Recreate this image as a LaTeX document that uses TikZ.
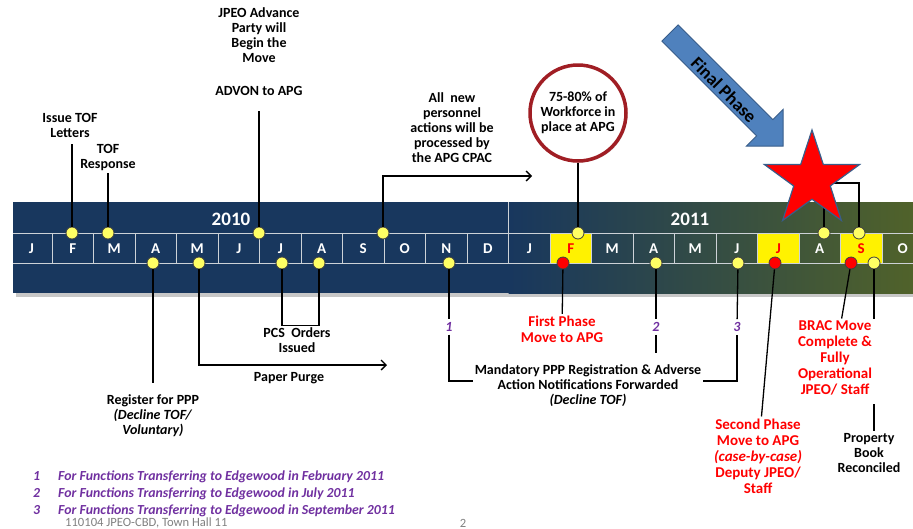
\documentclass[tikz,border=0pt]{standalone}
\usepackage{fontspec}
\setmainfont{Carlito}
\usetikzlibrary{shapes.geometric,arrows.meta,shadows}

\definecolor{bandblue}{RGB}{24,55,94}
\definecolor{bandolive}{RGB}{80,98,42}
\definecolor{dotyellow}{RGB}{255,255,100}
\definecolor{ppurple}{RGB}{112,48,160}
\definecolor{circred}{RGB}{160,30,36}
\definecolor{arrblue}{RGB}{79,129,189}
\definecolor{arredge}{RGB}{56,93,138}
\definecolor{gridgray}{RGB}{205,210,215}

\begin{document}
\begin{tikzpicture}[x=1pt,y=-1pt,>={Straight Barb[length=5pt,width=10pt]},
    lbl/.style={align=center,font=\fontsize{14}{15}\selectfont\bfseries,inner sep=2pt},
    redlbl/.style={lbl,text=red,font=\fontsize{15}{16}\selectfont\bfseries},
    conn/.style={line width=1.3pt},
    dot/.style={circle,draw=black!75,fill=dotyellow,line width=0.8pt,inner sep=0pt,minimum size=12pt},
    reddot/.style={dot,fill=red},
    mon/.style={font=\fontsize{15}{15}\selectfont\bfseries},
    year/.style={text=white,font=\fontsize{19}{19}\selectfont\bfseries},
    num/.style={text=ppurple,font=\fontsize{14}{15}\selectfont\bfseries\itshape,inner sep=3pt},
    fn/.style={text=ppurple,font=\fontsize{13.8}{15}\selectfont\bfseries\itshape,inner sep=0pt},
    foot/.style={text=black!50,font=\fontsize{12.6}{13}\selectfont,inner sep=0pt},
    gridline/.style={draw=gridgray,line width=0.8pt}]
    \useasboundingbox (0,0) rectangle (913,528);

    % timeline band
    \fill[black!22] (16,206) rectangle (913,297);
    \fill[bandblue] (13,202) rectangle (508.5,293);
    \shade[left color=bandblue,right color=bandolive] (508.5,202) rectangle (913,293);
    \foreach \i in {13,18,20}
        \fill[yellow] (10.5+41.5*\i,233) rectangle (52+41.5*\i,263);
    \draw[gridline] (13,233) -- (913,233) (13,263) -- (913,263);
    \draw[gridline] (508.5,202) -- (508.5,263);
    \foreach \k in {1,...,11,13,14,...,21}
        \draw[gridline] (10.5+41.5*\k,233) -- (10.5+41.5*\k,263);
    \foreach \m/\c [count=\i from 0] in {J/white,F/white,M/white,A/white,M/white,J/white,
            J/white,A/white,S/white,O/white,N/white,D/white,J/white,F/red,M/white,A/white,
            M/white,J/white,J/red,A/white,S/red,O/white}
        \node[mon,text=\c] (m\i) at (31.25+41.5*\i,249) {\m};
    \node[year] (y10) at (231,219) {2010};
    \node[year] (y11) at (690,219) {2011};

    % milestone dots
    \foreach \n/\x in {dF/72,dM/108,dJJ/259,dSO/383,dF11/578,dA11/824,dS11/859}
        \node[dot] (\n) at (\x,233) {};
    \foreach \n/\x in {dA/153,dMay/199,dJul/282,dAug/319,dN/449,dA11b/656,dJun/738,dSO11/874}
        \node[dot] (\n) at (\x,263) {};
    \foreach \n/\x in {rF/563,rJ/775,rS/851}
        \node[reddot] (\n) at (\x,263) {};

    % labels above
    \node[lbl] (issue) at (70,125) {Issue TOF\\Letters};
    \node[lbl] (tofr) at (108,158) {TOF\\Response};
    \node[lbl] (jpeo) at (259,35.5) {JPEO Advance\\Party will\\Begin the\\Move};
    \node[lbl] (advon) at (259,91) {ADVON to APG};
    \node[lbl] (allnew) at (452,128) {All~ new\\personnel\\actions will be\\processed by\\the APG CPAC};
    \node[lbl,circle,draw=circred,line width=3.5pt,fill=white,minimum size=96pt,
          drop shadow={shadow xshift=1.5pt,shadow yshift=-1.5pt,fill=black!30}]
          (circ) at (578,113) {75-80\% of\\Workforce in\\place at APG};
    \coordinate (arrA) at (532,176);
    \coordinate (brk) at (840,183);

    \draw[conn,shorten >=5pt] (dF) -- (dF |- issue.south);
    \draw[conn] (dM) -- (dM |- tofr.south);
    \draw[conn,shorten >=13pt] (dJJ) -- (dJJ |- advon.south);
    \draw[conn,->] (dSO) |- (arrA);
    \draw[conn] (dF11) -- (circ);
    \draw[conn] (dA11) |- (brk) -| (dS11);

    \node[star,star points=5,star point ratio=2.6,minimum size=100pt,inner sep=0pt,
          fill=red,draw=arredge,line width=1.2pt] (star) at (812,180) {};
    \begin{scope}[shift={(670,33)},rotate=-45]
        \filldraw[fill=arrblue,draw=arredge,line width=0.8pt]
            (0,-11.5) -- (134,-11.5) -- (134,-26) -- (160,0) -- (134,26) -- (134,11.5) -- (0,11.5) -- cycle;
    \end{scope}
    \node[lbl,rotate=-45,font=\fontsize{18}{18}\selectfont\bfseries] (fphase) at (724,90) {Final Phase};

    % labels below
    \node[lbl] (register) at (153,416) {Register for PPP\\\textit{(Decline TOF/}\\\textit{Voluntary)}};
    \node[lbl] (purge) at (289,378) {Paper Purge};
    \node[lbl] (pcs) at (297,340) {PCS~ Orders\\Issued};
    \node[num] (n1) at (449,327) {1};
    \node[num] (n2) at (656,327) {2};
    \node[num] (n3) at (737,327) {3};
    \node[lbl] (mand) at (588,386) {Mandatory PPP Registration \& Adverse\\Action Notifications Forwarded\\\textit{(Decline TOF)}};
    \node[redlbl] (first) at (562,329.5) {First Phase\\Move to APG};
    \node[redlbl] (second) at (758,456) {Second Phase\\Move to APG\\\textit{(case-by-case)}\\Deputy JPEO/\\Staff};
    \node[redlbl] (brac) at (835,358) {BRAC Move\\Complete \&\\Fully\\Operational\\JPEO/ Staff};
    \node[lbl] (prop) at (869,453) {Property\\Book\\Reconciled};
    \coordinate (purgeEnd) at (387,365);
    \coordinate (mbase) at (600,381);

    \draw[conn,shorten >=10pt] (dA) -- (dA |- register.north);
    \draw[conn,->] (dMay) |- (purgeEnd);
    \draw[conn] (dJul) |- (pcs.north) -| (dAug);
    \draw[conn] (dN) -- (n1);
    \draw[conn] (n1) |- (mand.west |- mbase);
    \draw[conn] (mand.east |- mbase) -| (n3);
    \draw[conn] (n3) -- (dJun);
    \draw[conn] (dA11b) -- (n2);
    \draw[conn,shorten >=10pt] (n2) -- (n2 |- mand.north);
    \draw[conn] (rF) -- (first);
    \draw[conn] (rJ) -- (second);
    \draw[conn] (rS) -- (brac);
    \draw[conn] (dSO11) -- (dSO11 |- brac.north);
    \draw[conn,shorten <=7pt] (dSO11 |- brac.south) -- (dSO11 |- prop.north);

    % footnotes
    \node[fn,anchor=west] (fn1) at (33,477) {\makebox[25pt][l]{1}For Functions Transferring to Edgewood in February 2011};
    \node[fn,anchor=west] (fn2) at (33,494) {\makebox[25pt][l]{2}For Functions Transferring to Edgewood in July 2011};
    \node[fn,anchor=west] (fn3) at (33,511) {\makebox[25pt][l]{3}For Functions Transferring to Edgewood in September 2011};
    \node[foot,anchor=west] (foot) at (65,523) {110104 JPEO-CBD, Town Hall 11};
    \node[foot] (pg) at (463,523) {2};
\end{tikzpicture}
\end{document}
